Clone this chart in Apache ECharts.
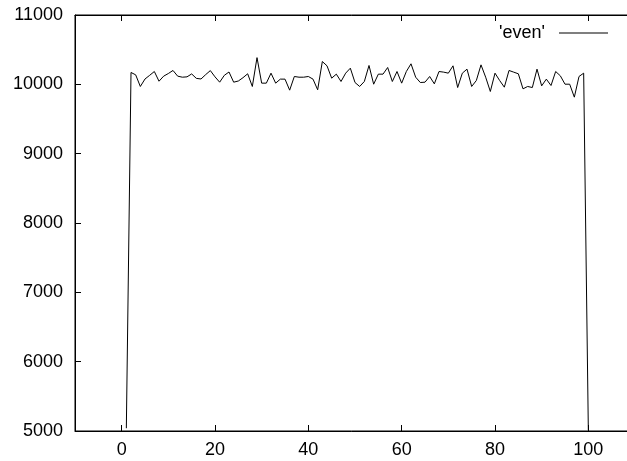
<!DOCTYPE html>
<html>
<head>
<meta charset="utf-8">
<script src="https://cdn.jsdelivr.net/npm/echarts@6/dist/echarts.min.js"></script>
<style>
html,body{margin:0;padding:0;background:#fff;}
#chart{width:627px;height:461px;}
</style>
</head>
<body>
<div id="chart"></div>
<script>
const seriesName = "'even'";
const xs = [1,2,3,4,5,6,7,8,9,10,11,12,13,14,15,16,17,18,19,20,
  21,22,23,24,25,26,27,28,29,30,31,32,33,34,35,36,37,38,39,40,
  41,42,43,44,45,46,47,48,49,50,51,52,53,54,55,56,57,58,59,60,
  61,62,63,64,65,66,67,68,69,70,71,72,73,74,75,76,77,78,79,80,
  81,82,83,84,85,86,87,88,89,90,91,92,93,94,95,96,97,98,99,100];
const counts = [5040,10171,10137,9969,10077,10130,10185,10045,10118,10156,
  10200,10118,10103,10108,10150,10086,10077,10140,10198,10108,
  10031,10130,10178,10031,10048,10096,10152,9969,10385,10017,
  10017,10161,10017,10075,10075,9916,10113,10103,10103,10113,
  10075,9921,10329,10267,10089,10147,10041,10161,10233,10026,
  9969,10041,10272,10002,10147,10147,10243,10041,10185,10017,
  10185,10296,10103,10026,10031,10113,10007,10185,10176,10161,
  10267,9954,10161,10219,9969,10055,10281,10103,9897,10161,
  10055,9959,10200,10176,10152,9935,9969,9954,10219,9978,
  10075,9983,10185,10123,10002,10002,9815,10113,10161,5010];
const xTicks = [0,20,40,60,80,100];
const yTicks = [5000,6000,7000,8000,9000,10000,11000];

const font = "'Liberation Sans', Arial, Helvetica, sans-serif";
const chart = echarts.init(document.getElementById('chart'), null, {renderer:'canvas'});
const data = xs.map((x,i)=>[x, counts[i]]);
const tick = {show:true, inside:true, length:6, lineStyle:{color:'#000',width:1}};
chart.setOption({
  animation:false,
  backgroundColor:'#fff',
  textStyle:{fontFamily:font},
  grid:{left:75, top:15, width:560, height:416, show:true, borderColor:'#000', borderWidth:1,
        containLabel:false, outerBoundsMode:'none'},
  legend:{
    data:[{name:seriesName}],
    right:14, top:19,
    align:'right',
    icon:'rect',
    itemWidth:49, itemHeight:1,
    textStyle:{fontSize:18, color:'#000', fontFamily:font, padding:[0,9,0,0]},
    selectedMode:false
  },
  xAxis:[{
    type:'value', min:-10, max:110, position:'bottom',
    axisLine:{show:true, onZero:false, lineStyle:{color:'#000',width:1}},
    axisTick:Object.assign({customValues:xTicks}, tick),
    axisLabel:{customValues:xTicks, fontSize:18, color:'#000', margin:10, fontFamily:font, formatter:v=>String(v)},
    splitLine:{show:false}
  },{
    type:'value', min:-10, max:110, position:'top',
    axisLine:{show:true, onZero:false, lineStyle:{color:'#000',width:1}},
    axisTick:Object.assign({customValues:xTicks}, tick),
    axisLabel:{show:false},
    splitLine:{show:false}
  }],
  yAxis:[{
    type:'value', min:5000, max:11000, interval:1000, position:'left',
    axisLine:{show:true, onZero:false, lineStyle:{color:'#000',width:1}},
    axisTick:Object.assign({customValues:yTicks}, tick),
    axisLabel:{customValues:yTicks, fontSize:18, color:'#000', margin:12, fontFamily:font, formatter:v=>String(v)},
    splitLine:{show:false}
  },{
    type:'value', min:5000, max:11000, interval:1000, position:'right',
    axisLine:{show:true, onZero:false, lineStyle:{color:'#000',width:1}},
    axisTick:Object.assign({customValues:yTicks}, tick),
    axisLabel:{show:false},
    splitLine:{show:false}
  }],
  series:[{
    name:seriesName, type:'line', data:data,
    xAxisIndex:0, yAxisIndex:0,
    showSymbol:false, symbol:'none',
    lineStyle:{color:'#000', width:1},
    itemStyle:{color:'#000'},
    clip:true
  }]
});
</script>
</body>
</html>
